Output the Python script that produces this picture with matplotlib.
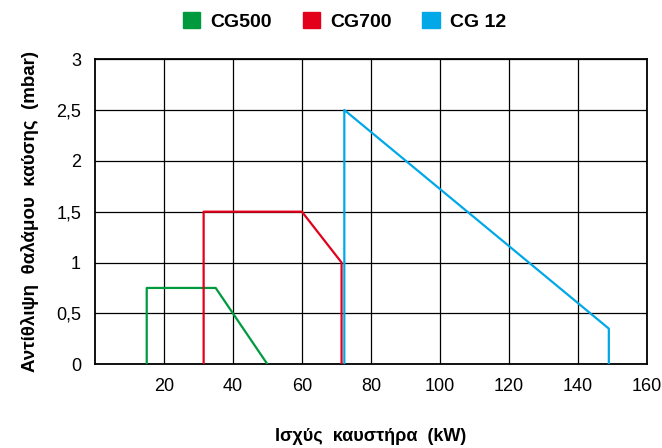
import matplotlib.pyplot as plt
from matplotlib.patches import Patch

# data
cg500_x = [15, 15, 35, 50]
cg500_y = [0, 0.75, 0.75, 0]
cg700_x = [31.5, 31.5, 60, 71.5, 71.5]
cg700_y = [0, 1.5, 1.5, 1.0, 0]
cg12_x = [72.3, 72.3, 149, 149]
cg12_y = [0, 2.5, 0.35, 0]

names = ["CG500", "CG700", "CG 12"]
colors = ["#009a3e", "#e2001a", "#00a8e8"]
xticks = [20, 40, 60, 80, 100, 120, 140, 160]
yticks = [0, 0.5, 1, 1.5, 2, 2.5, 3]
ylabels = ["0", "0,5", "1", "1,5", "2", "2,5", "3"]

plt.rcParams['font.family'] = ['Liberation Sans', 'DejaVu Sans']

fig = plt.figure(figsize=(6.62, 4.48), dpi=100)
ax = fig.add_axes([0.1435, 0.187, 0.8335, 0.681])

for xs, ys, c in zip([cg500_x, cg700_x, cg12_x], [cg500_y, cg700_y, cg12_y], colors):
    ax.plot(xs, ys, color=c, linewidth=1.6, zorder=3)

ax.set_xlim(0, 160)
ax.set_ylim(0, 3)
ax.set_xticks(xticks)
ax.set_yticks(yticks)
ax.set_yticklabels(ylabels)
ax.tick_params(length=0, labelsize=13, pad=10)
ax.grid(True, color="black", linewidth=0.9)
for s in ax.spines.values():
    s.set_linewidth(1.3)

ax.set_xlabel("Ισχύς  καυστήρα  (kW)", fontsize=13, fontweight="bold", labelpad=24)
ax.set_ylabel("Αντίθλιψη  θαλάμου  καύσης  (mbar)", fontsize=13.5, fontweight="bold", labelpad=12)

handles = [Patch(facecolor=c, edgecolor=c) for c in colors]
fig.legend(handles, names, loc="center", bbox_to_anchor=(0.52, 0.952), ncol=3,
           frameon=False, handlelength=0.9, handleheight=0.9, handletextpad=0.5,
           columnspacing=1.6, prop={"weight": "bold", "size": 14})

fig.savefig("out.png", dpi=100)
